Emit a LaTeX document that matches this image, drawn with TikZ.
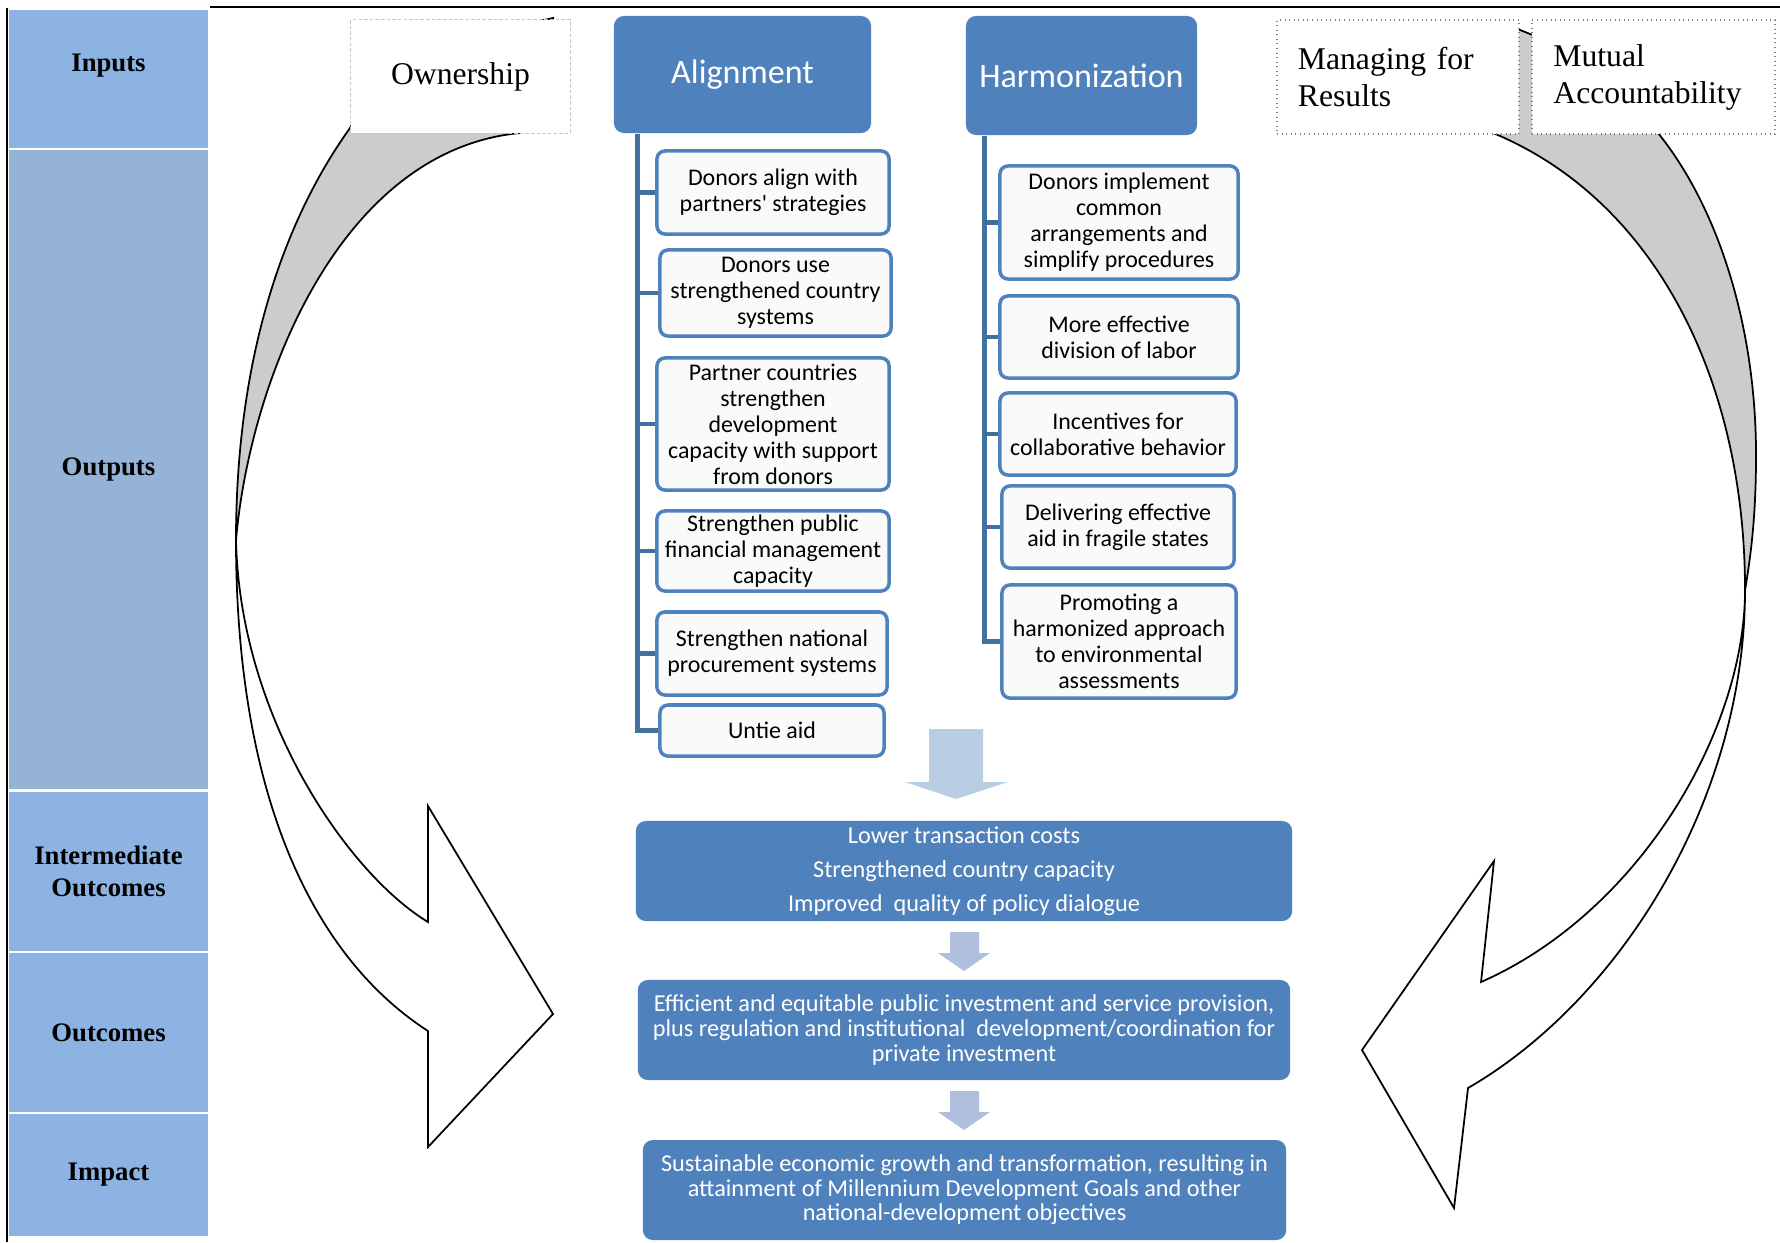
\documentclass[tikz,border=0pt]{standalone}
\usepackage{fontspec}
\setmainfont{Liberation Serif}
\newfontfamily\calibri{Carlito}
\usetikzlibrary{positioning}

\definecolor{cellblue}{HTML}{8DB3E2}
\definecolor{outblue}{HTML}{95B3D7}
\definecolor{boxblue}{HTML}{4F81BD}
\definecolor{branchblue}{HTML}{41709F}
\definecolor{arrowlight}{HTML}{B9CDE5}
\definecolor{arrowgray}{HTML}{B0BFDD}
\definecolor{bandgray}{HTML}{CCCCCC}

\begin{document}
\begin{tikzpicture}[
    x=0.01cm, y=-0.01cm,
    rowtext/.style={font=\fontsize{7.6}{9.1}\selectfont\bfseries},
    rowcell/.style={rowtext, fill=cellblue, minimum width=1.99cm, inner sep=0pt, align=center},
    pillar/.style={draw=gray!45, fill=white, line width=0.3pt, dash pattern=on 1pt off 0.6pt,
      minimum height=1.13cm, inner sep=0pt, font=\fontsize{9}{10.5}\selectfont},
    pillardot/.style={pillar, draw=gray, densely dotted, line width=0.6pt,
      align=left, text width=2.0cm},
    pillarhead/.style={fill=boxblue, rounded corners=0.1cm, text=white, inner sep=0pt,
      font=\calibri\fontsize{9.7}{11}\selectfont},
    leaf/.style={draw=boxblue, fill=gray!4, line width=1pt, rounded corners=0.08cm,
      inner sep=0pt, align=center, font=\calibri\fontsize{6.8}{7.4}\selectfont},
    resultbox/.style={fill=boxblue, rounded corners=0.1cm, text=white, inner sep=0pt,
      minimum height=1cm, align=center, font=\calibri\fontsize{6.9}{7}\selectfont},
    branch/.style={draw=branchblue, line width=1.3pt},
    band/.style={draw=black, line width=0.5pt}
  ]
  \useasboundingbox (0,0) rectangle (1780,1242);

  % frame
  \draw[line width=0.7pt] (210,7) -- (1780,7);
  \draw[line width=0.7pt] (7,8) -- (7,1242);

  % left column
  \node[rowcell, minimum height=1.38cm,
    label={[rowtext, yshift=0.13cm]center:Inputs}] (inputs) at (108.5,79) {};
  \node[rowcell, fill=outblue, minimum height=6.39cm] (outputs) at (108.5,469.5) {Outputs};
  \node[rowcell, minimum height=1.59cm] (inter) at (108.5,871.5) {Intermediate\\Outcomes};
  \node[rowcell, minimum height=1.59cm] (outcomes) at (108.5,1032.5) {Outcomes};
  \node[rowcell, minimum height=1.22cm] (impact) at (108.5,1175) {Impact};

  % left loop
  \filldraw[band, fill=bandgray]
    (236,540) .. controls (236,371) and (277,230) .. (350,128)
    .. controls (380,80) and (450,40) .. (553,18) -- (540,60) -- (520,133)
    .. controls (340,150) and (250,380) .. (236,540) -- cycle;
  \filldraw[band, fill=white]
    (236,540) .. controls (236,800) and (315,958) .. (428,1031)
    -- (428,1147) -- (553,1014) -- (428,806) -- (428,922)
    .. controls (350,875) and (240,720) .. (236,540) -- cycle;

  % right loop
  \filldraw[band, fill=bandgray]
    (1745,590) .. controls (1750,560) and (1756,520) .. (1756,455)
    .. controls (1756,330) and (1720,210) .. (1658,133)
    -- (1600,62) -- (1505,24) -- (1480,110) -- (1493,133)
    .. controls (1655,200) and (1745,380) .. (1745,590) -- cycle;
  \filldraw[band, fill=white]
    (1745,590) .. controls (1745,800) and (1620,1000) .. (1468,1088)
    -- (1454,1208) -- (1362,1050) -- (1494,861) -- (1481,982)
    .. controls (1640,912) and (1745,730) .. (1745,590) -- cycle;

  % the five principles
  \node[pillar, minimum width=2.19cm] (own) at (460.5,76.5) {Ownership};
  \node[pillarhead, minimum width=2.57cm, minimum height=1.17cm] (align) at (742.5,74.5) {Alignment};
  \node[pillarhead, minimum width=2.31cm, minimum height=1.19cm] (harm) at (1081.5,75.5) {Harmonization};
  \node[pillardot, minimum width=2.42cm, minimum height=1.14cm] (mfr) at (1398,77) {Managing for\\Results};
  \node[pillardot, minimum width=2.43cm, minimum height=1.14cm] (mutual) at (1653.5,77) {Mutual\\Accountability};

  % alignment outputs
  \node[leaf, minimum width=2.32cm, minimum height=0.83cm] (a1) at (773,192.5) {Donors align with\\partners' strategies};
  \node[leaf, minimum width=2.31cm, minimum height=0.86cm] (a2) at (775.5,293) {Donors use\\strengthened country\\systems};
  \node[leaf, minimum width=2.32cm, minimum height=1.32cm] (a3) at (773,424) {Partner countries\\strengthen\\development\\capacity with support\\from donors};
  \node[leaf, minimum width=2.32cm, minimum height=0.80cm] (a4) at (773,551) {Strengthen public\\financial management\\capacity};
  \node[leaf, minimum width=2.30cm, minimum height=0.83cm] (a5) at (772,653.5) {Strengthen national\\procurement systems};
  \node[leaf, minimum width=2.24cm, minimum height=0.51cm] (a6) at (772,730.5) {Untie aid};

  % harmonization outputs
  \node[leaf, minimum width=2.38cm, minimum height=1.13cm] (h1) at (1119,222.5) {Donors implement\\common\\arrangements and\\simplify procedures};
  \node[leaf, minimum width=2.38cm, minimum height=0.82cm] (h2) at (1119,337) {More effective\\division of labor};
  \node[leaf, minimum width=2.36cm, minimum height=0.82cm] (h3) at (1118,434) {Incentives for\\collaborative behavior};
  \node[leaf, minimum width=2.32cm, minimum height=0.82cm] (h4) at (1118,527) {Delivering effective\\aid in fragile states};
  \node[leaf, minimum width=2.34cm, minimum height=1.13cm] (h5) at (1119,641.5) {Promoting a\\harmonized approach\\to environmental\\assessments};

  \foreach \n in {a1,a2,a3,a4,a5,a6}
    \draw[branch] ([xshift=0.24cm]align.south west) |- (\n.west);
  \foreach \n in {h1,h2,h3,h4,h5}
    \draw[branch] ([xshift=0.19cm]harm.south west) |- (\n.west);

  % results chain
  \fill[arrowlight] (929,729) -- (983,729) -- (983,782) -- (1008,782) -- (956,799)
    -- (905,782) -- (929,782) -- cycle;
  \node[resultbox, minimum width=6.56cm] (io) at (964,871)
    {Lower transaction costs\\[2.7pt]Strengthened country capacity\\[2.7pt]Improved\ \ quality of policy dialogue};
  \fill[arrowgray] (950,932) -- (979,932) -- (979,953) -- (990,953) -- (964,971)
    -- (938,953) -- (950,953) -- cycle;
  \node[resultbox, minimum width=6.52cm] (outc) at (964,1030)
    {Efficient and equitable public investment and service provision,\\plus regulation and institutional\ \ development/coordination for\\private investment};
  \fill[arrowgray] (950,1091) -- (979,1091) -- (979,1112) -- (990,1112) -- (964,1130)
    -- (938,1112) -- (950,1112) -- cycle;
  \node[resultbox, minimum width=6.43cm] (imp) at (964.5,1190)
    {Sustainable economic growth and transformation, resulting in\\attainment of Millennium Development Goals and other\\national-development objectives};
\end{tikzpicture}
\end{document}
